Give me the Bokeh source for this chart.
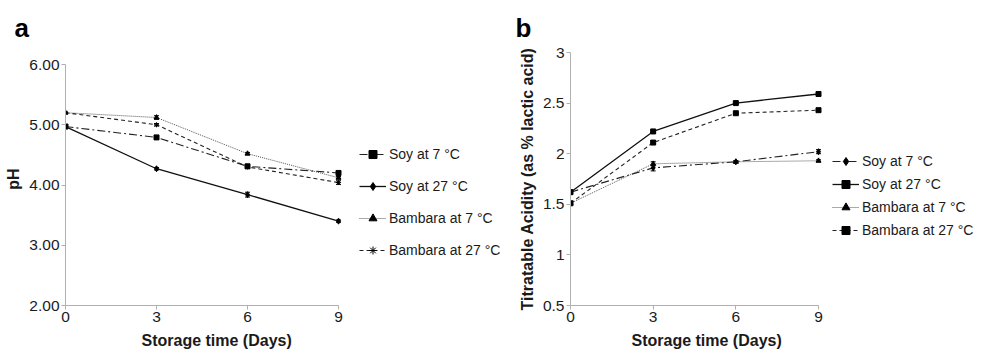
from bokeh.plotting import figure
from bokeh.models import (Range1d, FixedTicker, Legend, LegendItem, Whisker,
                          ColumnDataSource, Title)
from bokeh.layouts import row
from bokeh.embed import file_html
from bokeh.resources import INLINE

# ---------------- data ----------------
days = [0, 3, 6, 9]
series_names = ["Soy at 7 °C", "Soy at 27 °C", "Bambara at 7 °C", "Bambara at 27 °C"]

# panel a: pH
ph_soy7 = [4.97, 4.79, 4.31, 4.20]
ph_soy27 = [4.97, 4.27, 3.84, 3.40]
ph_bam7 = [5.20, 5.12, 4.52, 4.12]
ph_bam27 = [5.20, 5.00, 4.30, 4.04]
ph_err_soy7 = [0.01, 0.02, 0.02, 0.02]
ph_err_soy27 = [0.01, 0.02, 0.04, 0.02]
ph_err_bam7 = [0.01, 0.03, 0.02, 0.02]
ph_err_bam27 = [0.01, 0.02, 0.02, 0.03]

# panel b: titratable acidity
ta_soy7 = [1.62, 1.86, 1.92, 2.02]
ta_soy27 = [1.62, 2.22, 2.50, 2.59]
ta_bam7 = [1.51, 1.90, 1.92, 1.93]
ta_bam27 = [1.51, 2.11, 2.40, 2.43]
ta_err_soy7 = [0.01, 0.03, 0.01, 0.02]
ta_err_soy27 = [0.01, 0.01, 0.01, 0.01]
ta_err_bam7 = [0.01, 0.02, 0.01, 0.01]
ta_err_bam27 = [0.01, 0.01, 0.01, 0.01]

x_ticks = [0, 3, 6, 9]
ph_ticks = [2, 3, 4, 5, 6]
ph_tick_labels = ["2.00", "3.00", "4.00", "5.00", "6.00"]
ta_ticks = [0.5, 1, 1.5, 2, 2.5, 3]
ta_tick_labels = ["0.5", "1", "1.5", "2", "2.5", "3"]
x_label = "Storage time (Days)"

FONT = "Liberation Sans"
AXIS_COLOR = "#b0b0b0"
TEXT_COLOR = "#1a1a1a"
TICK_FS = "15.5px"
LABEL_FS = "16px"
LEGEND_FS = "14px"

FRAME_H = 253      # shared frame height (row aligns the frames' tops)
TOP = 49
BOTTOM = 45


def style_axes(p, yticks, ylabels, ylabel, xlabel_offset):
    for ax in (p.xaxis[0], p.yaxis[0]):
        ax.axis_line_color = AXIS_COLOR
        ax.major_tick_line_color = AXIS_COLOR
        ax.minor_tick_line_color = None
        ax.major_tick_in = 0
        ax.major_tick_out = 4
        ax.major_label_text_font = FONT
        ax.major_label_text_font_size = TICK_FS
        ax.major_label_text_color = TEXT_COLOR
        ax.axis_label_text_font = FONT
        ax.axis_label_text_font_size = LABEL_FS
        ax.axis_label_text_font_style = "bold"
        ax.axis_label_text_color = TEXT_COLOR
    p.xaxis[0].ticker = FixedTicker(ticks=x_ticks)
    p.xaxis[0].bounds = (x_ticks[0], x_ticks[-1])
    p.xaxis[0].major_label_standoff = 2
    p.yaxis[0].ticker = FixedTicker(ticks=yticks)
    p.yaxis[0].bounds = (yticks[0], yticks[-1])
    p.yaxis[0].major_label_overrides = {t: l for t, l in zip(yticks, ylabels)}
    p.yaxis[0].axis_label = ylabel
    p.yaxis[0].major_label_standoff = 2
    p.yaxis[0].axis_label_standoff = 4
    p.xgrid.visible = False
    p.ygrid.visible = False
    p.outline_line_color = None
    p.background_fill_color = "white"
    p.border_fill_color = "white"
    # x axis title, centred under the 0..9 span of the axis
    p.add_layout(Title(text=x_label, text_font=FONT, text_font_size=LABEL_FS,
                       text_font_style="bold", text_color=TEXT_COLOR,
                       align="left", offset=xlabel_offset, standoff=10), "below")


def add_series(p, ys, errs, dash, marker, lw, color, msize):
    r = p.line(days, ys, line_color=color, line_width=lw, line_dash=dash)
    src = ColumnDataSource(dict(x=days, y=ys,
                                up=[v + e for v, e in zip(ys, errs)],
                                lo=[v - e for v, e in zip(ys, errs)]))
    w = Whisker(source=src, base="x", upper="up", lower="lo",
                line_color="black", line_width=1)
    w.upper_head.size = 5
    w.lower_head.size = 5
    w.upper_head.line_color = "black"
    w.lower_head.line_color = "black"
    p.add_layout(w)
    m = p.scatter(days, ys, marker=marker, size=msize, fill_color="black",
                  line_color="black", line_width=1)
    return [r, m]


def make_legend(items, loc, spacing):
    return Legend(items=items, location=loc, orientation="vertical",
                  glyph_width=27, glyph_height=20, label_height=20,
                  label_standoff=3, spacing=spacing, padding=0, margin=0,
                  border_line_color=None, background_fill_alpha=0,
                  label_text_font=FONT, label_text_font_size=LEGEND_FS,
                  label_text_color=TEXT_COLOR)


def panel_title(text, offset):
    return Title(text=text, text_font=FONT, text_font_size="26px",
                 text_font_style="bold", text_color="black",
                 standoff=20, offset=offset)


# ---------------- panel a ----------------
# frame is wider than days 0..9 (legend lives inside it) and a bit taller
# than 2..6; the axis lines are bounded to the data span.
A_DATA_W = 273
A_FRAME_W = 441
A_DATA_H = 241
a_y_end = ph_ticks[-1] + (FRAME_H - A_DATA_H) * (ph_ticks[-1] - ph_ticks[0]) / A_DATA_H
pa = figure(frame_width=A_FRAME_W, frame_height=FRAME_H,
            x_range=Range1d(0, 9 * A_FRAME_W / A_DATA_W),
            y_range=Range1d(ph_ticks[0], a_y_end),
            output_backend="svg", toolbar_location=None,
            min_border_left=65, min_border_right=0,
            min_border_top=TOP, min_border_bottom=BOTTOM)
style_axes(pa, ph_ticks, ph_tick_labels, "pH", 76)

a_soy7 = add_series(pa, ph_soy7, ph_err_soy7, "8 3 2 3", "square", 1.1, "#222222", 5)
a_soy27 = add_series(pa, ph_soy27, ph_err_soy27, "solid", "diamond", 1.3, "#111111", 6)
a_bam7 = add_series(pa, ph_bam7, ph_err_bam7, "1 1", "triangle", 1.0, "#555555", 5)
a_bam27 = add_series(pa, ph_bam27, ph_err_bam27, "4 3", "asterisk", 1.1, "#222222", 5)

leg_a = make_legend([LegendItem(label=n, renderers=r) for n, r in
                     zip(series_names, [a_soy7, a_soy27, a_bam7, a_bam27])],
                    (A_DATA_W + 21, 45), 12)
pa.add_layout(leg_a, "center")
pa.title = panel_title("a", -51)

# ---------------- panel b ----------------
B_DATA_W = 248
B_FRAME_W = 407
pb = figure(frame_width=B_FRAME_W, frame_height=FRAME_H,
            x_range=Range1d(0, 9 * B_FRAME_W / B_DATA_W),
            y_range=Range1d(ta_ticks[0], ta_ticks[-1]),
            output_backend="svg", toolbar_location=None,
            min_border_left=64, min_border_right=0,
            min_border_top=TOP, min_border_bottom=BOTTOM)
style_axes(pb, ta_ticks, ta_tick_labels, "Titratable Acidity (as % lactic acid)", 61)

b_soy7 = add_series(pb, ta_soy7, ta_err_soy7, "8 3 2 3", "diamond", 1.1, "#222222", 6)
b_soy27 = add_series(pb, ta_soy27, ta_err_soy27, "solid", "square", 1.3, "#111111", 5)
b_bam7 = add_series(pb, ta_bam7, ta_err_bam7, "1 1", "triangle", 1.0, "#555555", 5)
b_bam27 = add_series(pb, ta_bam27, ta_err_bam27, "4 3", "square", 1.1, "#222222", 5)

leg_b = make_legend([LegendItem(label=n, renderers=r) for n, r in
                     zip(series_names, [b_soy7, b_soy27, b_bam7, b_bam27])],
                    (B_DATA_W + 14, 65), 3)
pb.add_layout(leg_b, "center")
pb.title = panel_title("b", -55)

layout = row(pa, pb)
open("out.html", "w").write(file_html(layout, INLINE))
